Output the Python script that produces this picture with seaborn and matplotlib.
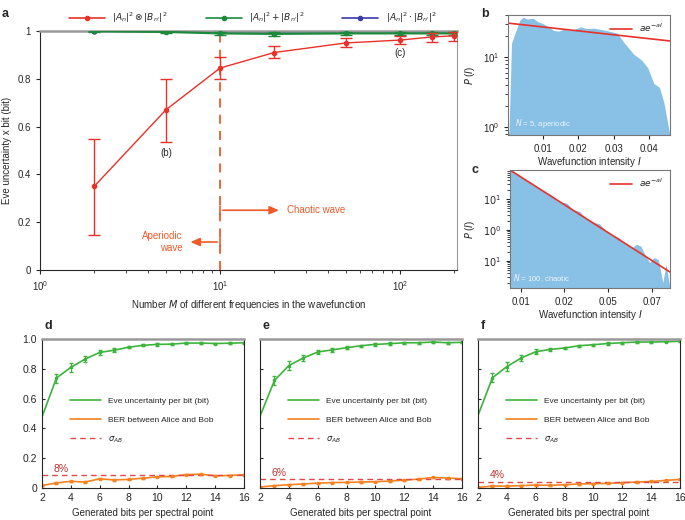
import numpy as np
import pandas as pd
import seaborn as sns
import matplotlib.pyplot as plt
from matplotlib.lines import Line2D

sns.set_style("ticks")
plt.rcParams['font.family'] = ['Liberation Sans', 'DejaVu Sans']
plt.rcParams['mathtext.fontset'] = 'dejavusans'
plt.rcParams['font.size'] = 7

RED = '#e8312a'
GREEN_A = '#1b8a3c'
BLUE_A = '#3b3ba8'
ORANGE_A = '#f05a28'
HIST = '#88c0e6'
GREEN = '#3cb43c'
ORANGE = '#f5821f'
DASH = '#e04848'

# panel a
M = [2, 5, 10, 20, 50, 100, 150, 200]
tensor_mean = [0.35, 0.67, 0.845, 0.91, 0.95, 0.962, 0.975, 0.98]
tensor_lo = [0.146, 0.535, 0.80, 0.887, 0.933, 0.946, 0.955, 0.96]
tensor_hi = [0.55, 0.80, 0.891, 0.937, 0.97, 0.98, 0.99, 0.995]
sum_mean = [0.999, 0.996, 0.99, 0.988, 0.99, 0.99, 0.99, 0.99]
sum_err = [0.003, 0.005, 0.007, 0.007, 0.007, 0.007, 0.007, 0.007]
prod_mean = [1.0, 0.998, 0.996, 0.995, 0.996, 0.996, 0.996, 0.996]
prod_err = [0.002, 0.003, 0.004, 0.004, 0.004, 0.004, 0.004, 0.004]
labels_a = [r'$|A_n|^2 \otimes |B_{n^{\prime}}|^2$',
            r'$|A_n|^2 + |B_{n^{\prime}}|^2$',
            r'$|A_n|^2 \cdot |B_{n^{\prime}}|^2$']

# panel b (N = 5, aperiodic)
b_I = [0.0, 0.0003, 0.001, 0.002, 0.0034, 0.0043, 0.0055, 0.0071, 0.0085, 0.010,
       0.0115, 0.013, 0.0145, 0.0157, 0.018, 0.0206, 0.0225, 0.0243, 0.026, 0.028,
       0.031, 0.033, 0.0357, 0.038, 0.0397, 0.0414, 0.043, 0.0443, 0.0457, 0.046]
b_P = [0.77, 0.9, 15.8, 22, 34, 37, 35, 36, 32, 30,
       27, 24, 23.5, 25, 24, 27, 25.5, 26, 25, 24,
       22, 16, 11, 9, 7, 4.2, 3.7, 2.2, 0.9, 0.77]
b_fit_I = [0.0, 0.046]
b_fit_P = [30.6, 17.0]

# panel c (N = 100, chaotic)
c_I = [0.0051, 0.008, 0.012, 0.016, 0.020, 0.024, 0.028, 0.031, 0.034, 0.037,
       0.040, 0.043, 0.046, 0.049, 0.052, 0.055, 0.058, 0.061, 0.063, 0.065,
       0.067, 0.069, 0.071, 0.073, 0.075, 0.0765, 0.0783]
c_P = [87, 63, 42, 27, 18.5, 13.5, 8.0, 7.5, 4.5, 4.0,
       2.3, 1.8, 1.6, 0.95, 0.7, 0.55, 0.37, 0.27, 0.35, 0.30,
       0.15, 0.09, 0.13, 0.11, 0.02, 0.08, 0.013]
c_fit_I = [0.0051, 0.0783]
c_fit_P = [87.0, 0.044]

# panels d, e, f
bits = list(range(2, 17))
eve_d = [0.477, 0.738, 0.81, 0.866, 0.91, 0.925, 0.945, 0.958, 0.964, 0.966, 0.973, 0.973, 0.97, 0.972, 0.975]
ber_d = [0.017, 0.034, 0.045, 0.04, 0.062, 0.054, 0.058, 0.066, 0.075, 0.078, 0.09, 0.093, 0.082, 0.084, 0.089]
eve_e = [0.482, 0.722, 0.822, 0.873, 0.913, 0.927, 0.942, 0.955, 0.964, 0.969, 0.975, 0.975, 0.98, 0.975, 0.978]
ber_e = [0.007, 0.016, 0.022, 0.027, 0.033, 0.036, 0.038, 0.04, 0.042, 0.047, 0.053, 0.06, 0.071, 0.067, 0.062]
eve_f = [0.487, 0.74, 0.815, 0.873, 0.915, 0.93, 0.94, 0.955, 0.962, 0.97, 0.975, 0.98, 0.98, 0.982, 0.985]
ber_f = [0.004, 0.013, 0.013, 0.016, 0.02, 0.018, 0.022, 0.027, 0.029, 0.031, 0.036, 0.04, 0.044, 0.051, 0.058]
eve_err = [0.0, 0.03, 0.03, 0.018, 0.015, 0.012, 0.008, 0.008, 0.008, 0.008, 0.006, 0.006, 0.005, 0.005, 0.005]
ber_err = [0.002, 0.004, 0.004, 0.004, 0.004, 0.004, 0.004, 0.004, 0.004, 0.004, 0.004, 0.004, 0.004, 0.004, 0.004]
sigma_ab = [0.085, 0.058, 0.042]
sigma_txt = ['8%', '6%', '4%']

fig = plt.figure(figsize=(6.85, 5.2), dpi=100)

# ---------------- a ----------------
ax = fig.add_axes([0.0584, 0.4808, 0.6088, 0.4596])
ax.set_xscale('log')
ax.axvline(10, ymax=0.99, color=ORANGE_A, ls=(0, (5, 4)), lw=1.3, zorder=1)
ax.errorbar(M, tensor_mean,
            yerr=[np.array(tensor_mean) - np.array(tensor_lo), np.array(tensor_hi) - np.array(tensor_mean)],
            color=RED, lw=1.0, capsize=4, capthick=1.0, marker='o', ms=3, zorder=4)
ax.errorbar(M, sum_mean, yerr=sum_err, color=GREEN_A, lw=1.6, capsize=4, marker='o', ms=3, zorder=3)
ax.errorbar(M, prod_mean, yerr=prod_err, color=BLUE_A, lw=1.0, capsize=3, marker='o', ms=3.5, zorder=2)
ax.set_xlim(1, 207)
ax.set_ylim(0, 1)
ax.set_yticks([0, 0.2, 0.4, 0.6, 0.8, 1])
ax.set_yticklabels(['0', '0.2', '0.4', '0.6', '0.8', '1'])
ax.set_ylabel('Eve uncertainty x bit (bit)', fontsize=7)
ax.set_xlabel(r'Number $M$ of different frequencies in the wavefunction', fontsize=7)
for s in ['top', 'right']:
    ax.spines[s].set_color('#999999')
ax.spines['top'].set_linewidth(1.8)
ax.tick_params(axis='both', labelsize=7, length=3)
ax.tick_params(which='minor', length=2)
handles_a = [Line2D([], [], color=c, lw=1.2, marker='o', ms=3) for c in [RED, GREEN_A, BLUE_A]]
ax.legend(handles_a, labels_a, loc='lower center', bbox_to_anchor=(0.51, 1.0), ncol=3, frameon=False,
          fontsize=6.5, handlelength=4, columnspacing=4.2, borderaxespad=0.3)
ax.text(5, 0.49, '(b)', ha='center', va='center', fontsize=7)
ax.text(100, 0.91, '(c)', ha='center', va='center', fontsize=7)
ax.annotate('', xy=(22, 0.25), xytext=(10, 0.25),
            arrowprops=dict(arrowstyle='-|>,head_length=0.8,head_width=0.35', color=ORANGE_A, lw=1.2))
ax.plot([10, 10], [0.232, 0.268], color=ORANGE_A, lw=1.2)
ax.text(23.5, 0.25, 'Chaotic wave', color=ORANGE_A, ha='left', va='center', fontsize=7)
ax.annotate('', xy=(6.6, 0.117), xytext=(10, 0.117),
            arrowprops=dict(arrowstyle='-|>,head_length=0.8,head_width=0.35', color=ORANGE_A, lw=1.2))
ax.plot([10, 10], [0.099, 0.135], color=ORANGE_A, lw=1.2)
ax.text(6.2, 0.117, 'Aperiodic\nwave', color=ORANGE_A, ha='right', va='center', fontsize=7,
        linespacing=1.2, multialignment='right')
fig.text(0.003, 0.985, 'a', fontsize=9, fontweight='bold', va='top')

# ---------------- b ----------------
axb = fig.add_axes([0.7416, 0.7404, 0.2365, 0.2308])
axb.fill_between(b_I, 1e-3, b_P, color=HIST, lw=0)
sns.lineplot(x=b_fit_I, y=b_fit_P, ax=axb, color=RED, lw=1.2, label=r'$ae^{-aI}$')
axb.set_yscale('log')
axb.set_xlim(0, 0.046)
axb.set_ylim(0.77, 40)
axb.set_xticks([0.01, 0.02, 0.03, 0.04])
axb.set_xticklabels(['0.01', '0.02', '0.03', '0.04'])
axb.set_xlabel(r'Wavefunction intensity $I$', fontsize=7, labelpad=1)
axb.set_ylabel(r'$P$ ($I$)', fontsize=7)
axb.tick_params(labelsize=7, length=3)
axb.legend(loc='upper right', frameon=False, fontsize=6.5, handlelength=2.5, borderaxespad=0.3)
axb.text(0.002, 0.9, r'$N$ = 5, aperiodic', color='white', alpha=0.85, fontsize=5.5, va='bottom')
for s in axb.spines.values():
    s.set_color('#777777')
fig.text(0.702, 0.985, 'b', fontsize=9, fontweight='bold', va='top')

# ---------------- c ----------------
axc = fig.add_axes([0.7445, 0.4462, 0.2336, 0.2269])
axc.fill_between(c_I, 1e-4, c_P, color=HIST, lw=0)
sns.lineplot(x=c_fit_I, y=c_fit_P, ax=axc, color=RED, lw=1.2, label=r'$ae^{-aI}$')
axc.set_yscale('log')
axc.set_xlim(0.0051, 0.0783)
axc.set_ylim(10 ** -1.87, 10 ** 1.94)
axc.set_yticks([10, 1, 0.1])
axc.set_yticklabels([r'$10^1$', r'$10^0$', r'$10^1$'])
axc.set_xticks([0.01, 0.03, 0.05, 0.07])
axc.set_xticklabels(['0.01', '0.02', '0.05', '0.07'])
axc.set_xlabel(r'Wavefunction intensity $I$', fontsize=7, labelpad=1)
axc.set_ylabel(r'$P$ ($I$)', fontsize=7)
axc.tick_params(labelsize=7, length=3)
axc.legend(loc='upper right', frameon=False, fontsize=6.5, handlelength=2.5, borderaxespad=0.3)
axc.text(0.0065, 10 ** -1.75, r'$N$ = 100, chaotic', color='white', alpha=0.85, fontsize=5.5, va='bottom')
for s in axc.spines.values():
    s.set_color('#777777')
fig.text(0.688, 0.685, 'c', fontsize=9, fontweight='bold', va='top')

# ---------------- d, e, f ----------------
lefts = [0.0613, 0.3796, 0.6978]
eves = [eve_d, eve_e, eve_f]
bers = [ber_d, ber_e, ber_f]
letters = ['d', 'e', 'f']
for i in range(3):
    axp = fig.add_axes([lefts[i], 0.0615, 0.2949, 0.2865])
    df = pd.DataFrame({'bits': bits, 'eve': eves[i], 'ber': bers[i]})
    sns.lineplot(data=df, x='bits', y='eve', ax=axp, color=GREEN, lw=1.2,
                 label='Eve uncertainty per bit (bit)')
    axp.errorbar(df['bits'][1:], df['eve'][1:], yerr=eve_err[1:], fmt='s', color=GREEN,
                 ms=2, capsize=1.5, lw=0.8)
    sns.lineplot(data=df, x='bits', y='ber', ax=axp, color=ORANGE, lw=1.2,
                 label='BER between Alice and Bob')
    axp.errorbar(df['bits'], df['ber'], yerr=ber_err, fmt='s', color=ORANGE,
                 ms=2, capsize=1.5, lw=0.8)
    axp.axhline(sigma_ab[i], color=DASH, ls=(0, (4, 3)), lw=1.0, label=r'$\sigma_{AB}$')
    axp.text(2.8, sigma_ab[i] + 0.012, sigma_txt[i], color='#c03030', fontsize=7.5, va='bottom')
    axp.set_xlim(2, 16)
    axp.set_ylim(0, 1)
    axp.set_xticks([2, 4, 6, 8, 10, 12, 14, 16])
    axp.set_yticks([0, 0.2, 0.4, 0.6, 0.8, 1.0])
    if i == 0:
        axp.set_yticklabels(['0', '0.2', '0.4', '0.6', '0.8', '1.0'])
    else:
        axp.set_yticklabels([])
    axp.set_ylabel('')
    axp.set_xlabel('Generated bits per spectral point', fontsize=7)
    axp.tick_params(labelsize=7.5, length=2.5, direction='in')
    axp.spines['top'].set_color('#999999')
    axp.spines['top'].set_linewidth(1.8)
    axp.legend(loc='center left', bbox_to_anchor=(0.1, 0.45), frameon=False, fontsize=6,
               handlelength=3.8, labelspacing=1.3)
    fig.text(lefts[i] + 0.004, 0.385, letters[i], fontsize=9, fontweight='bold', va='top')

fig.savefig('out.png', dpi=100)
